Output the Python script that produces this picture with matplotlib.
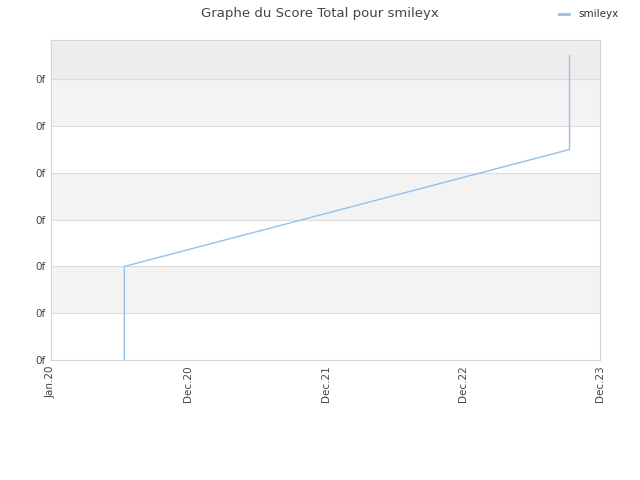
import matplotlib
matplotlib.use("Agg")
import matplotlib.pyplot as plt
import datetime as dt

# Data
dates = ["2020-07-14", "2020-07-14", "2023-10-11", "2023-10-11"]
scores = [0.0, 2.0, 4.5, 6.5]
tick_dates = ["2020-01-01", "2020-12-31", "2021-12-31", "2022-12-31", "2023-12-31"]
tick_labels = ["Jan.20", "Dec.20", "Dec.21", "Dec.22", "Dec.23"]
y_ticks = [0, 1, 2, 3, 4, 5, 6]
y_labels = ["0f"] * 7
series_name = "smileyx"

d = [dt.datetime.fromisoformat(s) for s in dates]
td = [dt.datetime.fromisoformat(s) for s in tick_dates]

fig = plt.figure(figsize=(6.4, 4.8), dpi=100)
ax = fig.add_axes([51/640, 120/480, 549/640, 320/480])

ymax = 6.84
ax.set_ylim(0, ymax)
ax.set_xlim(td[0], td[-1])

# alternating bands
for i in range(len(y_ticks)):
    lo = y_ticks[i]
    hi = y_ticks[i+1] if i + 1 < len(y_ticks) else ymax
    if i == len(y_ticks) - 1:
        c = "#ededed"
    elif i % 2 == 1:
        c = "#f3f3f3"
    else:
        c = "#ffffff"
    ax.axhspan(lo, hi, color=c, zorder=0, lw=0)
for y in y_ticks:
    ax.axhline(y, color="#dddddd", lw=0.8, zorder=1)

ax.plot(d, scores, color="#92c1f0", lw=1.0, label=series_name, zorder=3)

ax.set_xticks(td)
ax.set_xticklabels(tick_labels, rotation=90, fontsize=7.5, color="#444444")
ax.set_yticks(y_ticks)
ax.set_yticklabels(y_labels, fontsize=7.5, color="#444444")
ax.tick_params(length=0, pad=4)
for s in ax.spines.values():
    s.set_color("#d5d5d5")
    s.set_linewidth(0.8)

fig.suptitle("Graphe du Score Total pour smileyx", y=0.985, fontsize=9.5, color="#444444")
leg = fig.legend(loc="upper right", bbox_to_anchor=(0.982, 1.0), frameon=False, fontsize=7.5,
                 handlelength=1.0, handletextpad=0.9, labelcolor="#333333")
for h in leg.get_lines():
    h.set_linewidth(2.0)

fig.savefig("out.png", dpi=100)
